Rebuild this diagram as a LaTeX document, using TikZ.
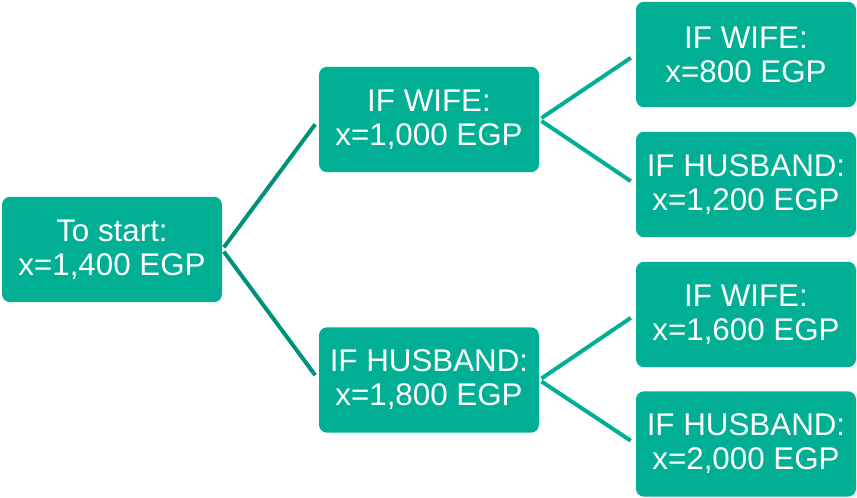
\documentclass[tikz,border=0pt]{standalone}
\usepackage{fontspec}
\setmainfont{Liberation Sans}
\usetikzlibrary{positioning}
\definecolor{tealbox}{HTML}{00AF94}
\definecolor{tealdark}{HTML}{00917B}
\tikzset{
  treebox/.style={fill=tealbox, rounded corners=6pt, minimum width=165pt,
                  minimum height=79pt, inner sep=2pt, align=center, text=white,
                  font=\fontsize{23.5}{25.5}\selectfont},
  branch/.style={line width=3pt, color=tealdark, shorten <=2pt, shorten >=4.5pt},
  twig/.style={line width=3pt, color=tealbox, shorten <=2pt, shorten >=4.5pt}}
\begin{document}
\begin{tikzpicture}[x=0.75pt, y=-0.75pt]
    \useasboundingbox (0,0) rectangle (857,497);
    \node[treebox] (start) at (112,249.5) {To start:\\x=1,400 EGP};
    \node[treebox] (wife) at (429,119.5) {IF WIFE:\\x=1,000 EGP};
    \node[treebox] (husband) at (429,380) {IF HUSBAND:\\x=1,800 EGP};
    \node[treebox] (wwife) at (746,54.5) {IF WIFE:\\x=800 EGP};
    \node[treebox] (whusband) at (746,184.5) {IF HUSBAND:\\x=1,200 EGP};
    \node[treebox] (hwife) at (746,314.5) {IF WIFE:\\x=1,600 EGP};
    \node[treebox] (hhusband) at (746,444) {IF HUSBAND:\\x=2,000 EGP};
    % first split
    \draw[branch] (start.east) -- (wife.west);
    \draw[branch] (start.east) -- (husband.west);
    % second split
    \draw[twig] (wife.east) -- (wwife.west);
    \draw[twig] (wife.east) -- (whusband.west);
    \draw[twig] (husband.east) -- (hwife.west);
    \draw[twig] (husband.east) -- (hhusband.west);
\end{tikzpicture}
\end{document}
